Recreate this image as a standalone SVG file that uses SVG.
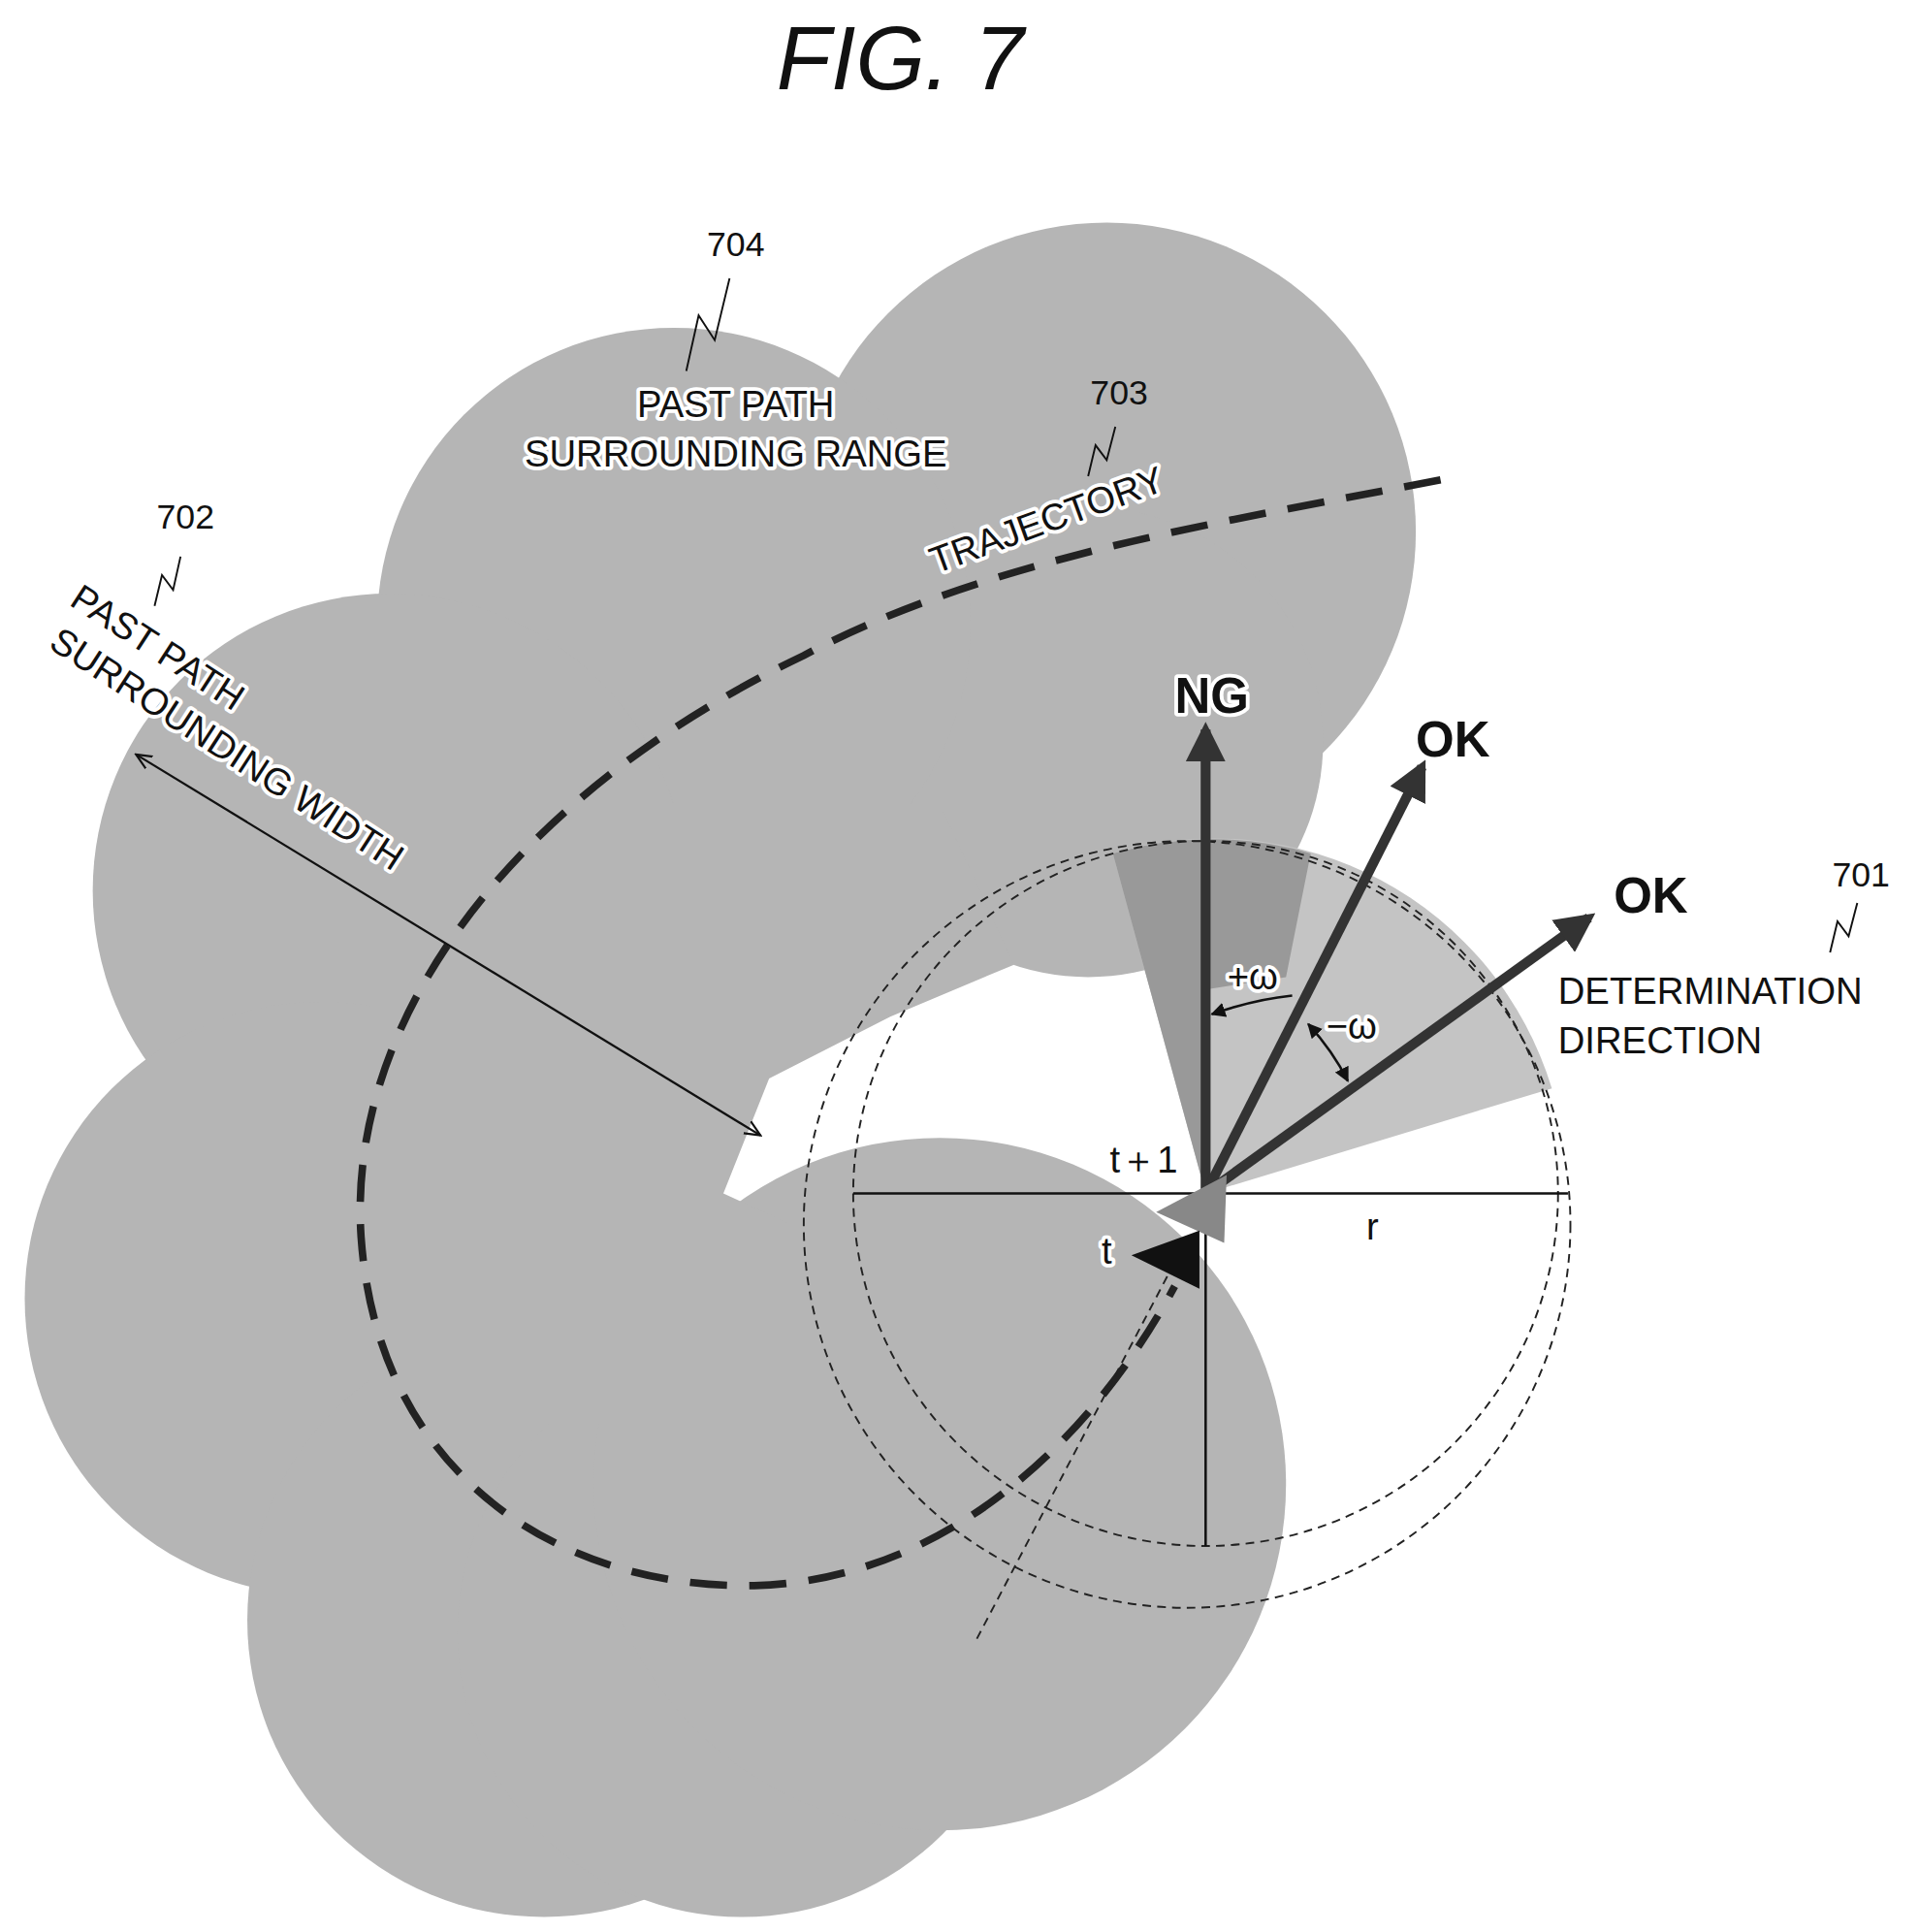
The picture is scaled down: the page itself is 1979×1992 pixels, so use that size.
<svg xmlns="http://www.w3.org/2000/svg" width="1979" height="1992" viewBox="0 0 1979 1992">
<defs>
<style>
text{font-family:"Liberation Sans",Arial,sans-serif;fill:#111}
.h{stroke:#fff;stroke-width:6;paint-order:stroke;stroke-linejoin:round}
.b{font-weight:bold;font-size:40px}
.m{font-size:30px}
.n{font-size:28px}
</style>
<marker id="ah" viewBox="0 0 10 10" refX="8" refY="5" markerWidth="4" markerHeight="4" orient="auto-start-reverse"><path d="M0,0L10,5L0,10z" fill="#333"/></marker>
<marker id="th" viewBox="0 0 10 10" refX="9" refY="5" markerWidth="14" markerHeight="14" orient="auto-start-reverse" markerUnits="userSpaceOnUse"><path d="M0,1L9,5L0,9" fill="none" stroke="#111" stroke-width="1.2"/></marker>
<marker id="sa" viewBox="0 0 10 10" refX="9" refY="5" markerWidth="12" markerHeight="12" orient="auto-start-reverse" markerUnits="userSpaceOnUse"><path d="M0,0L10,5L0,10z" fill="#111"/></marker>
</defs>
<g transform="scale(1.2752)">
<text x="728" y="72" font-size="72" font-style="italic" text-anchor="middle">FIG. 7</text>
<g id="range" fill="#b5b5b5">
<circle cx="895" cy="430" r="250"/>
<circle cx="880" cy="600" r="190"/>
<circle cx="545" cy="505" r="240"/>
<circle cx="315" cy="720" r="240"/>
<circle cx="260" cy="1050" r="240"/>
<circle cx="440" cy="1310" r="240"/>
<circle cx="600" cy="1320" r="230"/>
<circle cx="760" cy="1200" r="280"/>
<path d="M300,650 L760,650 L820,780 L720,822 L622,872 L585,965 L640,990 L640,1150 L300,1150z"/>
<path d="M975,965 L900,690 A285,285 0 0 1 1255,880 z" fill="#c4c4c4"/>
<path d="M975,965 L900,690 A285,285 0 0 1 1060,690 L1040,790 L975,800z" fill="#999"/>
</g>
<g id="circles" fill="none" stroke="#222" stroke-width="1.5" stroke-dasharray="7,5">
<circle cx="975" cy="965" r="285"/>
<circle cx="960" cy="990" r="310"/>
</g>
<g id="connectors" fill="none">
<path d="M1165,388 C1000,420 800,450 650,530 C420,640 280,820 292,1000 C305,1190 450,1285 610,1282 C760,1278 880,1170 950,1040" stroke="#222" stroke-width="6" stroke-dasharray="30,18"/>
<line x1="790" y1="1325" x2="945" y2="1030" stroke="#222" stroke-width="1.5" stroke-dasharray="7,5"/>
<line x1="690" y1="965" x2="1268" y2="965" stroke="#111" stroke-width="2"/>
<line x1="975" y1="965" x2="975" y2="1250" stroke="#111" stroke-width="2"/>
<line x1="110" y1="610" x2="615" y2="918" stroke="#111" stroke-width="1.8" marker-start="url(#th)" marker-end="url(#th)"/>
<line x1="975" y1="965" x2="975" y2="590" stroke="#333" stroke-width="8" marker-end="url(#ah)"/>
<line x1="975" y1="965" x2="1150" y2="620" stroke="#333" stroke-width="8" marker-end="url(#ah)"/>
<line x1="975" y1="965" x2="1285" y2="742" stroke="#333" stroke-width="8" marker-end="url(#ah)"/>
<path d="M980,820 Q1015,808 1045,805" stroke="#111" stroke-width="2" marker-start="url(#sa)"/>
<path d="M1058,828 Q1078,850 1090,874" stroke="#111" stroke-width="2" marker-start="url(#sa)" marker-end="url(#sa)"/>
<path d="M935,980 L992,950 L990,1005z" fill="#888" stroke="none"/>
<path d="M915,1015 L970,995 L970,1042z" fill="#111" stroke="none"/>
</g>
<g id="labels">
<text x="595" y="207" class="n" text-anchor="middle">704</text>
<path d="M555,300 L565,255 L578,275 L590,225" fill="none" stroke="#111" stroke-width="1.5"/>
<text x="595" y="337" class="m h" text-anchor="middle">PAST PATH</text>
<text x="595" y="377" class="m h" text-anchor="middle">SURROUNDING RANGE</text>
<text x="905" y="327" class="n" text-anchor="middle">703</text>
<path d="M880,385 L886,360 L895,372 L902,345" fill="none" stroke="#111" stroke-width="1.5"/>
<text transform="translate(850,430) rotate(-20)" class="m h" text-anchor="middle">TRAJECTORY</text>
<text x="150" y="427" class="n" text-anchor="middle">702</text>
<path d="M125,490 L131,465 L140,477 L146,450" fill="none" stroke="#111" stroke-width="1.5"/>
<text transform="translate(122,532) rotate(33)" class="m h" text-anchor="middle" font-size="32">PAST PATH</text>
<text transform="translate(178,614) rotate(33)" class="m h" text-anchor="middle" font-size="32">SURROUNDING WIDTH</text>
<text x="1505" y="717" class="n" text-anchor="middle">701</text>
<path d="M1480,770 L1486,745 L1495,757 L1502,730" fill="none" stroke="#111" stroke-width="1.5"/>
<text x="1260" y="812" class="m h">DETERMINATION</text>
<text x="1260" y="852" class="m h">DIRECTION</text>
<text x="980" y="576" class="b h" text-anchor="middle">NG</text>
<text x="1175" y="612" class="b h" text-anchor="middle">OK</text>
<text x="1335" y="738" class="b h" text-anchor="middle">OK</text>
<text x="1013" y="800" class="m h" text-anchor="middle">+ω</text>
<text x="1093" y="840" class="m h" text-anchor="middle">−ω</text>
<text x="925" y="948" class="m h" text-anchor="middle">t＋1</text>
<text x="895" y="1022" class="m h" text-anchor="middle">t</text>
<text x="1110" y="1002" class="m" text-anchor="middle">r</text>
</g>
</g>
</svg>
